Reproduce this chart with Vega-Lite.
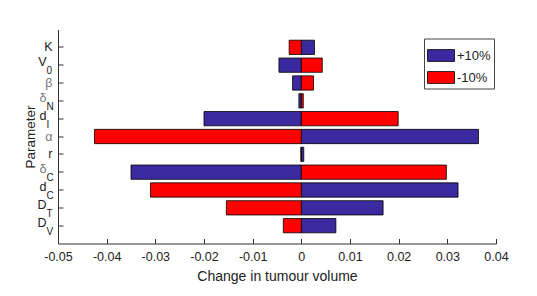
{
  "$schema": "https://vega.github.io/schema/vega-lite/v6.json",
  "width": 438,
  "height": 214,
  "autosize": {"type": "none"},
  "padding": {"left": 58, "top": 29.5, "right": 41, "bottom": 52.5},
  "background": "white",
  "config": {
    "font": "Liberation Sans",
    "view": {"stroke": null},
    "axis": {"domainColor": "#333333", "tickColor": "#333333", "labelColor": "#222222", "titleColor": "#222222", "grid": false, "titleFontWeight": "normal", "labelFont": "Liberation Sans", "titleFont": "Liberation Sans"}
  },
  "datasets": {
    "bars": [
      {"param": "K", "series": "+10%", "value": 0.0027},
      {"param": "K", "series": "-10%", "value": -0.0025},
      {"param": "V0", "series": "+10%", "value": -0.0046},
      {"param": "V0", "series": "-10%", "value": 0.0043},
      {"param": "beta", "series": "+10%", "value": -0.0018},
      {"param": "beta", "series": "-10%", "value": 0.0025},
      {"param": "deltaN", "series": "+10%", "value": -0.0005},
      {"param": "deltaN", "series": "-10%", "value": 0.0004},
      {"param": "dI", "series": "+10%", "value": -0.02},
      {"param": "dI", "series": "-10%", "value": 0.0199},
      {"param": "alpha", "series": "+10%", "value": 0.0364},
      {"param": "alpha", "series": "-10%", "value": -0.0425},
      {"param": "r", "series": "+10%", "value": 0.0005},
      {"param": "r", "series": "-10%", "value": -0.0001},
      {"param": "deltaC", "series": "+10%", "value": -0.035},
      {"param": "deltaC", "series": "-10%", "value": 0.0298},
      {"param": "dC", "series": "+10%", "value": 0.0322},
      {"param": "dC", "series": "-10%", "value": -0.031},
      {"param": "DT", "series": "+10%", "value": 0.0168},
      {"param": "DT", "series": "-10%", "value": -0.0154},
      {"param": "DV", "series": "+10%", "value": 0.0071},
      {"param": "DV", "series": "-10%", "value": -0.0037}
    ],
    "labels": [
      {"param": "K", "main": "K", "sub": ""},
      {"param": "V0", "main": "V", "sub": "0"},
      {"param": "beta", "main": "β", "sub": ""},
      {"param": "deltaN", "main": "δ", "sub": "N"},
      {"param": "dI", "main": "d", "sub": "I"},
      {"param": "alpha", "main": "α", "sub": ""},
      {"param": "r", "main": "r", "sub": ""},
      {"param": "deltaC", "main": "δ", "sub": "C"},
      {"param": "dC", "main": "d", "sub": "C"},
      {"param": "DT", "main": "D", "sub": "T"},
      {"param": "DV", "main": "D", "sub": "V"}
    ]
  },
  "encoding": {
    "y": {
      "field": "param", "type": "nominal",
      "scale": {"domain": ["K", "V0", "beta", "deltaN", "dI", "alpha", "r", "deltaC", "dC", "DT", "DV"], "paddingInner": 0.2, "paddingOuter": 0.6},
      "axis": {"labels": false, "tickSize": -5, "title": "Parameter", "titleFontSize": 13.5, "titlePadding": 20}
    }
  },
  "layer": [
    {
      "data": {"name": "bars"},
      "mark": {"type": "bar", "stroke": "black", "strokeWidth": 0.8},
      "encoding": {
        "x": {
          "field": "value", "type": "quantitative",
          "scale": {"domain": [-0.05, 0.04], "nice": false, "zero": false},
          "axis": {"values": [-0.05, -0.04, -0.03, -0.02, -0.01, 0, 0.01, 0.02, 0.03, 0.04], "labelExpr": "datum.value == 0 ? '0' : replace(format(datum.value, '.2f'), '\u2212', '-')", "labelFlush": false, "tickSize": -5, "labelPadding": 12, "labelFontSize": 12.5, "title": "Change in tumour volume", "titleFontSize": 14, "titlePadding": 6}
        },
        "x2": {"datum": 0},
        "color": {
          "field": "series", "type": "nominal",
          "scale": {"domain": ["+10%", "-10%"], "range": ["#3b2a9f", "#ff0000"]},
          "legend": {"title": null, "orient": "none", "legendX": 366, "legendY": 9, "fillColor": "white", "strokeColor": "#444444", "padding": 3, "symbolType": "M-1,-0.44H1V0.44H-1Z", "symbolSize": 729, "symbolStrokeColor": "black", "symbolStrokeWidth": 0.8, "symbolOpacity": 1, "labelFontSize": 13, "labelOffset": 2, "rowPadding": -11, "labelColor": "#222222"}
        }
      }
    },
    {
      "mark": {"type": "rule", "color": "black", "strokeWidth": 1},
      "encoding": {"x": {"datum": 0}, "y": {"value": 0}, "y2": {"value": 214}}
    },
    {
      "data": {"name": "labels"},
      "transform": [{"filter": "datum.sub == ''"}],
      "mark": {"type": "text", "align": "right", "baseline": "middle", "dx": -5.5, "fontSize": 12.5},
      "encoding": {
        "x": {"datum": -0.05},
        "text": {"field": "main"},
        "font": {"condition": {"test": "indexof('αβδ', datum.main) >= 0", "value": "Liberation Serif"}, "value": "Liberation Sans"},
        "fontStyle": {"condition": {"test": "indexof('αβδ', datum.main) >= 0", "value": "italic"}, "value": "normal"},
        "color": {"condition": {"test": "indexof('αβδ', datum.main) >= 0", "value": "#777777"}, "value": "#222222"}
      }
    },
    {
      "data": {"name": "labels"},
      "transform": [{"filter": "datum.sub != ''"}],
      "mark": {"type": "text", "align": "right", "baseline": "middle", "dx": -11.5, "dy": -3, "fontSize": 12.5},
      "encoding": {
        "x": {"datum": -0.05},
        "text": {"field": "main"},
        "font": {"condition": {"test": "indexof('αβδ', datum.main) >= 0", "value": "Liberation Serif"}, "value": "Liberation Sans"},
        "fontStyle": {"condition": {"test": "indexof('αβδ', datum.main) >= 0", "value": "italic"}, "value": "normal"},
        "color": {"condition": {"test": "indexof('αβδ', datum.main) >= 0", "value": "#777777"}, "value": "#222222"}
      }
    },
    {
      "data": {"name": "labels"},
      "transform": [{"filter": "datum.sub != ''"}],
      "mark": {"type": "text", "align": "left", "baseline": "middle", "dx": -11.5, "dy": 6, "fontSize": 10, "color": "#222222"},
      "encoding": {
        "x": {"datum": -0.05},
        "text": {"field": "sub"}
      }
    }
  ]
}
